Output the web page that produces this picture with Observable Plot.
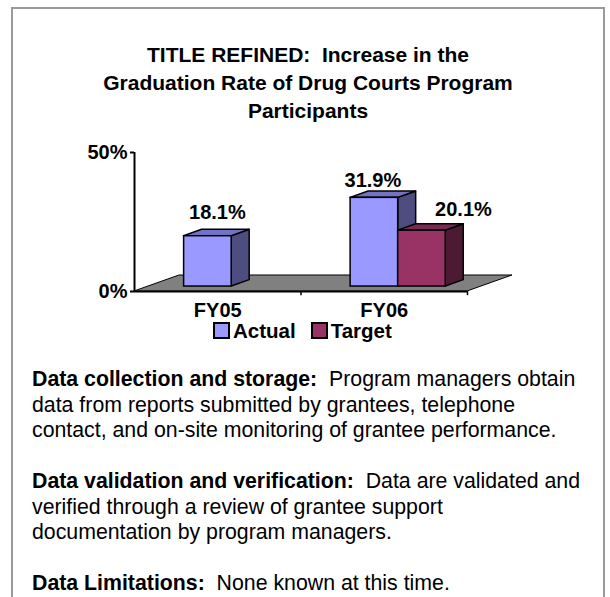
<!DOCTYPE html>
<html>
<head>
<meta charset="utf-8">
<script src="https://cdn.jsdelivr.net/npm/d3@7"></script>
<script src="https://cdn.jsdelivr.net/npm/@observablehq/plot@0.6"></script>
<style>
  html, body { margin: 0; padding: 0; background: #fff; }
  body { width: 610px; height: 597px; position: relative; overflow: hidden;
         font-family: "Liberation Sans", Arial, sans-serif; color: #000; }
  #frame { position: absolute; left: 11px; top: 7px; width: 590px; height: 640px;
           border: 2px solid #9a9a9a; border-bottom: none; }
  #title { position: absolute; left: 13px; top: 41px; width: 590px; text-align: center;
           font-weight: bold; font-size: 21px; line-height: 28px; }
  #chart { position: absolute; left: 0; top: 140px; }
  #legend { position: absolute; left: 213px; top: 318px; height: 24px; display: flex;
            align-items: center; font-weight: bold; font-size: 20.5px; }
  #legend .sw { width: 13px; height: 13px; border: 2px solid #000; margin-right: 3px; }
  #legend .item { display: flex; align-items: center; margin-right: 15px; }
  #legend .lab { line-height: 15px; display: block; }
  #notes { position: absolute; left: 32px; top: 367px; font-size: 21.3px; line-height: 25.5px;
           white-space: nowrap; }
</style>
</head>
<body>
<div id="frame"></div>
<div id="title">TITLE REFINED:&nbsp; Increase in the<br>Graduation Rate of Drug Courts Program<br>Participants</div>
<div id="chart"></div>
<div id="legend"></div>
<div id="notes"><b>Data collection and storage:</b>&nbsp; Program managers obtain<br>data from reports submitted by grantees, telephone<br>contact, and on-site monitoring of grantee performance.<br><br><b>Data validation and verification:</b>&nbsp; Data are validated and<br>verified through a review of grantee support<br>documentation by program managers.<br><br><b>Data Limitations:</b>&nbsp; None known at this time.</div>
<script>
// ---- data ----
const categories = ["FY05", "FY06"];
const seriesNames = ["Actual", "Target"];
const actual = [18.1, 31.9];
const target = [null, 20.1];
const yTicks = [0, 50];

// ---- styling ----
const frontColors = {Actual: "#9999ff", Target: "#993366"};
const topColors = {Actual: "#7373c6", Target: "#7a2952"};
const sideColors = {Actual: "#4d4d80", Target: "#4c1a33"};

// 3D projection constants (depth vector in data units)
const DX = 0.27, DY = 5.76;      // full floor depth
const F0 = 0.31, BD = 0.40;      // bar front depth, bar depth
const W = 1 / 3.5;               // bar width (band = 1)

const rows = [];
categories.forEach((c, ci) => {
  [actual, target].forEach((arr, si) => {
    const v = arr[ci];
    if (v == null) return;
    const xl = ci + 0.5 - W + si * W;
    rows.push({id: c + "-" + seriesNames[si], cat: c, ci, series: seriesNames[si], value: v, xl, xr: xl + W});
  });
});

const fx = F0 * DX, fy = F0 * DY, bx = (F0 + BD) * DX, by = (F0 + BD) * DY;

function faces(series) {
  const rs = rows.filter(d => d.series === series);
  const top = rs.flatMap(d => [
    {id: d.id, y: d.value + fy, x1: d.xl + fx, x2: d.xr + fx},
    {id: d.id, y: d.value + by, x1: d.xl + bx, x2: d.xr + bx}
  ]);
  const side = rs.flatMap(d => [
    {id: d.id, x: d.xr + fx, y1: fy, y2: d.value + fy},
    {id: d.id, x: d.xr + bx, y1: by, y2: d.value + by}
  ]);
  return [
    Plot.areaY(side, {x: "x", y1: "y1", y2: "y2", z: "id", fill: sideColors[series], stroke: "#000", strokeWidth: 1.5, strokeLinejoin: "round"}),
    Plot.areaX(top, {y: "y", x1: "x1", x2: "x2", z: "id", fill: topColors[series], stroke: "#000", strokeWidth: 1.5, strokeLinejoin: "round"}),
    Plot.rect(rs, {x1: d => d.xl + fx, x2: d => d.xr + fx, y1: fy, y2: d => d.value + fy, fill: frontColors[series], stroke: "#000", strokeWidth: 1.5})
  ];
}

const n = categories.length;
const floor = [
  {y: 0, x1: 0, x2: n},
  {y: DY, x1: DX, x2: n + DX}
];

const fmt = v => v.toFixed(1) + "%";
const labelAt = (filter, dx, dy) => Plot.text(rows.filter(filter), {
  x: d => (d.xl + d.xr) / 2 + fx, y: d => d.value + fy, text: d => fmt(d.value),
  dx, dy, lineAnchor: "middle", fontSize: 20, fontWeight: "bold", fill: "#000"
});

const chart = Plot.plot({
  width: 610, height: 190,
  marginLeft: 134, marginRight: 143, marginTop: 12, marginBottom: 39,
  x: {domain: [0, n], axis: null},
  y: {domain: [0, 50], axis: null},
  style: {fontFamily: "'Liberation Sans', Arial, sans-serif", fontSize: "20px", fontWeight: "bold", color: "#000", background: "transparent", overflow: "visible"},
  marks: [
    Plot.areaX(floor, {y: "y", x1: "x1", x2: "x2", fill: "#808080", stroke: "#000", strokeWidth: 1}),
    Plot.ruleX([0], {y1: 0, y2: yTicks[yTicks.length - 1], stroke: "#000", strokeWidth: 2}),
    Plot.axisY({ticks: yTicks, tickFormat: d => d + "%", tickSize: 4, tickPadding: 3, strokeWidth: 2}),
    Plot.ruleY([0], {stroke: "#000", strokeWidth: 2}),
    Plot.ruleX(d3.range(1, n + 1), {y1: 0, y2: -1.5, stroke: "#000", strokeWidth: 1.5}),
    Plot.text(categories, {x: (d, i) => i + 0.5, y: 0, text: d => d, dy: 19, lineAnchor: "middle", fontSize: 20, fontWeight: "bold"}),
    ...faces("Actual"),
    ...faces("Target"),
    labelAt(d => d.series === "Actual" && d.ci === 0, 9.5, -24),
    labelAt(d => d.series === "Actual" && d.ci === 1, -1.5, -17),
    labelAt(d => d.series === "Target", 41.5, -21)
  ]
});
document.getElementById("chart").appendChild(chart);

const legend = document.getElementById("legend");
seriesNames.forEach(s => {
  const item = document.createElement("div");
  item.className = "item";
  const sw = document.createElement("div");
  sw.className = "sw";
  sw.style.background = frontColors[s];
  const t = document.createElement("span");
  t.className = "lab";
  t.textContent = s;
  item.appendChild(sw); item.appendChild(t);
  legend.appendChild(item);
});
</script>
</body>
</html>
